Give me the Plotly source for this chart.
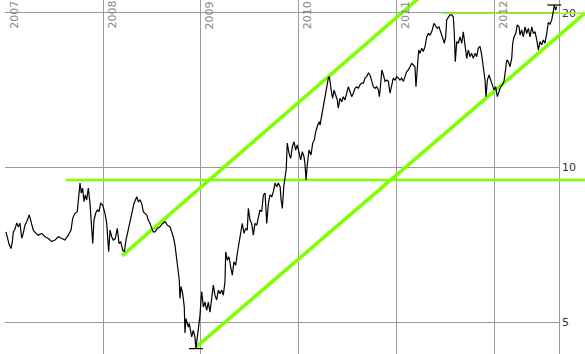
import plotly.graph_objects as go

# ---------------- data (decimal year, price) ----------------
t = [
    2007.007, 2007.020, 2007.041, 2007.058, 2007.072, 2007.082, 2007.099, 2007.117, 2007.133, 2007.150,
    2007.168, 2007.184, 2007.201, 2007.219, 2007.245, 2007.263, 2007.286, 2007.314, 2007.337, 2007.372,
    2007.406, 2007.440, 2007.474, 2007.508, 2007.542, 2007.577, 2007.610, 2007.644, 2007.672, 2007.689,
    2007.713, 2007.736, 2007.751, 2007.764, 2007.777, 2007.791, 2007.805, 2007.818, 2007.832, 2007.849,
    2007.866, 2007.879, 2007.894, 2007.907, 2007.924, 2007.941, 2007.958, 2007.975, 2007.996, 2008.019,
    2008.037, 2008.057, 2008.071, 2008.088, 2008.104, 2008.125, 2008.145, 2008.163, 2008.180, 2008.200,
    2008.217, 2008.234, 2008.255, 2008.275, 2008.296, 2008.316, 2008.344, 2008.360, 2008.377, 2008.395,
    2008.411, 2008.428, 2008.446, 2008.462, 2008.480, 2008.497, 2008.513, 2008.531, 2008.554, 2008.582,
    2008.609, 2008.633, 2008.656, 2008.684, 2008.701, 2008.718, 2008.735, 2008.752, 2008.769, 2008.779,
    2008.786, 2008.797, 2008.814, 2008.820, 2008.830, 2008.837, 2008.848, 2008.861, 2008.871, 2008.881,
    2008.896, 2008.906, 2008.922, 2008.939, 2008.949, 2008.963, 2008.980, 2008.991, 2009.001, 2009.008,
    2009.025, 2009.042, 2009.059, 2009.076, 2009.093, 2009.110, 2009.127, 2009.144, 2009.161, 2009.178,
    2009.195, 2009.213, 2009.229, 2009.246, 2009.254, 2009.270, 2009.287, 2009.305, 2009.321, 2009.338,
    2009.356, 2009.372, 2009.390, 2009.407, 2009.423, 2009.441, 2009.458, 2009.474, 2009.485, 2009.502,
    2009.519, 2009.536, 2009.553, 2009.571, 2009.587, 2009.604, 2009.622, 2009.639, 2009.656, 2009.673,
    2009.690, 2009.707, 2009.725, 2009.741, 2009.758, 2009.776, 2009.792, 2009.810, 2009.820, 2009.833,
    2009.847, 2009.860, 2009.873, 2009.883, 2009.901, 2009.918, 2009.935, 2009.952, 2009.969, 2009.986,
    2010.003, 2010.020, 2010.037, 2010.054, 2010.064, 2010.075, 2010.088, 2010.105, 2010.126, 2010.143,
    2010.160, 2010.174, 2010.194, 2010.211, 2010.218, 2010.235, 2010.252, 2010.269, 2010.286, 2010.303,
    2010.313, 2010.327, 2010.337, 2010.347, 2010.361, 2010.378, 2010.395, 2010.405, 2010.422, 2010.440,
    2010.456, 2010.473, 2010.491, 2010.507, 2010.525, 2010.542, 2010.558, 2010.576, 2010.593, 2010.609,
    2010.627, 2010.644, 2010.661, 2010.678, 2010.695, 2010.712, 2010.729, 2010.747, 2010.763, 2010.780,
    2010.797, 2010.815, 2010.825, 2010.839, 2010.850, 2010.866, 2010.883, 2010.901, 2010.917, 2010.934,
    2010.951, 2010.967, 2010.985, 2011.002, 2011.019, 2011.036, 2011.053, 2011.070, 2011.087, 2011.104,
    2011.121, 2011.138, 2011.155, 2011.172, 2011.189, 2011.199, 2011.213, 2011.227, 2011.240, 2011.258,
    2011.274, 2011.292, 2011.309, 2011.325, 2011.343, 2011.360, 2011.383, 2011.401, 2011.417, 2011.434,
    2011.452, 2011.468, 2011.479, 2011.489, 2011.503, 2011.513, 2011.530, 2011.547, 2011.564, 2011.581,
    2011.591, 2011.601, 2011.616, 2011.632, 2011.649, 2011.667, 2011.683, 2011.701, 2011.718, 2011.734,
    2011.752, 2011.769, 2011.785, 2011.803, 2011.820, 2011.836, 2011.854, 2011.871, 2011.888, 2011.905,
    2011.915, 2011.929, 2011.946, 2011.963, 2011.980, 2011.997, 2012.014, 2012.031, 2012.048, 2012.065,
    2012.082, 2012.099, 2012.117, 2012.127, 2012.143, 2012.161, 2012.178, 2012.188, 2012.201, 2012.219,
    2012.235, 2012.253, 2012.263, 2012.280, 2012.297, 2012.314, 2012.331, 2012.348, 2012.366, 2012.383,
    2012.399, 2012.417, 2012.434, 2012.450, 2012.467, 2012.485, 2012.501, 2012.518, 2012.536, 2012.552,
    2012.569, 2012.587, 2012.603, 2012.613, 2012.628, 2012.638,
]
price = [
    7.49, 7.32, 7.06, 6.95, 7.17, 7.49, 7.58, 7.80, 7.66, 7.79,
    7.28, 7.45, 7.72, 7.84, 8.08, 7.84, 7.55, 7.44, 7.38, 7.44,
    7.33, 7.27, 7.17, 7.22, 7.33, 7.27, 7.22, 7.38, 7.55, 7.96,
    8.14, 8.20, 8.97, 9.32, 8.91, 9.11, 8.58, 8.84, 8.64, 9.11,
    8.51, 7.78, 7.11, 7.90, 8.14, 8.26, 8.20, 8.51, 8.45, 8.14,
    7.78, 6.85, 7.55, 7.33, 7.22, 7.27, 7.61, 7.11, 7.17, 6.90,
    6.85, 7.22, 7.55, 7.90, 8.26, 8.51, 8.77, 8.58, 8.64, 8.51,
    8.20, 8.14, 8.08, 7.90, 7.78, 7.61, 7.49, 7.49, 7.61, 7.66,
    7.78, 7.84, 7.72, 7.66, 7.49, 7.33, 7.06, 6.65, 6.40, 6.03,
    5.56, 5.86, 5.68, 5.47, 5.35, 4.76, 5.08, 4.97, 4.89, 4.97,
    4.76, 4.68, 4.82, 4.68, 4.44, 4.68, 4.97, 5.16, 5.52, 5.73,
    5.35, 5.47, 5.27, 5.47, 5.23, 5.52, 5.90, 5.64, 5.52, 5.77,
    5.68, 5.77, 5.64, 5.99, 6.85, 6.60, 6.70, 6.40, 6.17, 6.55,
    6.45, 6.80, 7.11, 7.38, 7.78, 7.44, 7.61, 7.55, 8.32, 7.90,
    7.78, 7.38, 7.78, 7.72, 8.02, 8.26, 8.20, 8.84, 8.91, 7.78,
    8.51, 8.84, 8.77, 8.97, 9.32, 9.17, 9.32, 9.17, 8.64, 8.32,
    9.17, 9.52, 9.94, 11.15, 10.65, 10.41, 10.96, 11.22, 10.81, 11.06,
    10.65, 10.34, 10.73, 10.49, 10.17, 9.45, 10.11, 10.81, 10.57, 11.15,
    11.31, 11.73, 12.09, 12.27, 12.09, 12.65, 13.23, 13.63, 14.47, 14.92,
    15.02, 14.14, 13.94, 13.63, 14.14, 13.83, 13.52, 13.04, 13.63, 13.42,
    13.73, 13.52, 14.03, 14.35, 14.03, 13.73, 13.94, 14.25, 14.35, 14.25,
    14.47, 14.59, 14.59, 14.92, 15.02, 15.26, 15.13, 14.79, 14.35, 14.25,
    14.35, 14.14, 13.73, 14.59, 15.47, 15.13, 14.70, 14.79, 14.70, 13.94,
    14.59, 14.92, 14.79, 15.02, 14.92, 14.79, 14.92, 14.70, 15.02, 15.36,
    15.47, 15.70, 15.93, 15.82, 15.70, 14.35, 15.93, 16.92, 16.67, 17.06,
    16.81, 17.19, 17.94, 18.22, 18.10, 18.36, 19.07, 18.77, 18.64, 18.77,
    18.36, 18.10, 17.70, 17.44, 17.94, 19.36, 19.64, 19.80, 19.80, 19.64,
    18.22, 16.06, 17.57, 17.44, 17.94, 17.44, 18.36, 17.19, 16.30, 16.92,
    16.42, 16.67, 16.30, 16.67, 16.42, 17.06, 17.19, 16.55, 15.47, 14.79,
    13.73, 14.79, 15.13, 14.70, 14.47, 14.14, 14.35, 13.73, 14.03, 14.35,
    14.47, 14.70, 15.60, 16.18, 16.06, 15.70, 16.30, 17.44, 17.94, 18.22,
    18.93, 18.77, 18.10, 18.51, 17.94, 18.77, 18.22, 18.64, 17.94, 18.77,
    18.22, 18.36, 17.70, 16.92, 17.57, 17.31, 17.70, 17.44, 18.22, 19.15,
    19.00, 19.36, 20.09, 20.70, 20.24, 20.55,
]

year_ticks = [2007, 2008, 2009, 2010, 2011, 2012]
price_ticks = [5, 10, 20]
price_tick_text = ["5", "10", "20"]

# hand-drawn trend lines (decimal year, price)
upper_channel_t = [2008.193, 2011.343]
upper_channel_v = [6.73, 22.3]
lower_channel_t = [2008.950, 2012.927]
lower_channel_v = [4.47, 19.95]
support_t = [2007.621, 2012.927]
support_v = [9.45, 9.45]
resistance_t = [2011.462, 2012.927]
resistance_v = [19.95, 19.95]

# ---------------- layout constants ----------------
W, H = 585, 354
PLOT_L, PLOT_R = 4.5, 558.7          # pixel edges of the gridded area
X2007_PX, PX_PER_YEAR = 5.3, 97.8    # pixel of 2007 gridline, pixels per year
def t_at(px):
    return 2007 + (px - X2007_PX) / PX_PER_YEAR

x_range_main = [t_at(PLOT_L), t_at(PLOT_R)]
x_range_full = [t_at(PLOT_L), t_at(W)]
y_range_log = [0.6369, 1.3257]

GRID = "#9a9a9a"
GREEN = "#80ff00"
FONT = "DejaVu Sans"

fig = go.Figure()

# placeholder on the gridded subplot so its axes/grid are drawn
fig.add_trace(go.Scatter(x=[], y=[], xaxis="x", yaxis="y", showlegend=False))

# trend lines (full-width subplot so they can run into the margin)
for tx, tv, w, col in [
    (support_t, support_v, 2.5, GREEN),
    (upper_channel_t, upper_channel_v, 3.6, GREEN),
    (lower_channel_t, lower_channel_v, 3.6, GREEN),
    (resistance_t, resistance_v, 1.5, "#8fff20"),
]:
    fig.add_trace(go.Scatter(x=tx, y=tv, mode="lines", xaxis="x2", yaxis="y2",
                             line=dict(color=col, width=w), showlegend=False, hoverinfo="skip"))

# price line
fig.add_trace(go.Scatter(x=t, y=price, mode="lines", xaxis="x2", yaxis="y2",
                         line=dict(color="black", width=1.2), showlegend=False))

# low / high markers
i_min = price.index(min(price))
i_max = price.index(max(price))
fig.add_trace(go.Scatter(x=[t[i_min], t[i_max]], y=[price[i_min], price[i_max]],
                         mode="markers", xaxis="x2", yaxis="y2", cliponaxis=False,
                         marker=dict(symbol="line-ew", size=10,
                                     line=dict(color="black", width=1.2)),
                         showlegend=False))

annotations = [
    dict(x=yr, xref="x", y=1, yref="paper", text=str(yr), textangle=-90,
         xanchor="left", yanchor="top", showarrow=False, yshift=1,
         font=dict(family=FONT, size=11, color="#888888"))
    for yr in year_ticks
]

fig.update_layout(
    width=W, height=H,
    margin=dict(l=0, r=0, t=0, b=0, autoexpand=False),
    paper_bgcolor="white",
    plot_bgcolor="rgba(0,0,0,0)",
    font=dict(family=FONT, size=11, color="#333333"),
    showlegend=False,
    xaxis=dict(domain=[PLOT_L / W, PLOT_R / W], range=x_range_main, anchor="y",
               tickmode="array", tickvals=year_ticks, showticklabels=False,
               showgrid=True, gridcolor=GRID, gridwidth=1, zeroline=False,
               showline=False, ticks=""),
    yaxis=dict(type="log", range=y_range_log, domain=[0, 1], anchor="x", side="right",
               tickmode="array", tickvals=price_ticks, ticktext=price_tick_text,
               showgrid=True, gridcolor=GRID, gridwidth=1, zeroline=False,
               showline=True, linecolor=GRID, linewidth=1, ticks="",
               tickfont=dict(family=FONT, size=11, color="#333333"), automargin=False),
    xaxis2=dict(domain=[PLOT_L / W, 1], range=x_range_full, anchor="y2", visible=False,
                showgrid=False, zeroline=False),
    yaxis2=dict(type="log", range=y_range_log, domain=[0, 1], anchor="x2", visible=False,
                showgrid=False, zeroline=False),
    annotations=annotations,
)

fig.write_html("out.html")
